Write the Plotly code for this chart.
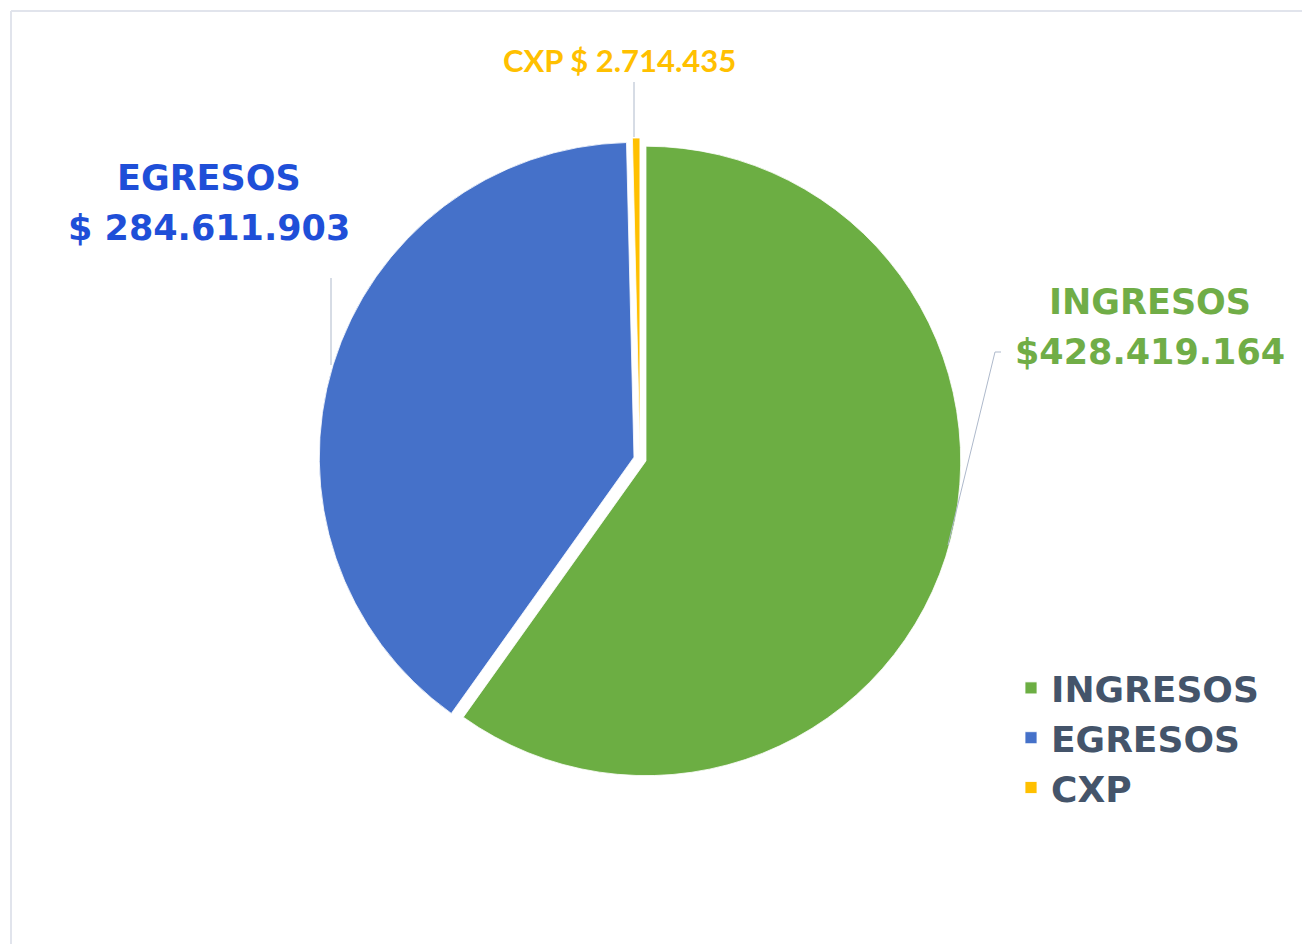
import plotly.graph_objects as go

categories = ["INGRESOS", "EGRESOS", "CXP"]
values = [428419164, 284611903, 2714435]
value_texts = ["$428.419.164", "$ 284.611.903", "$ 2.714.435"]
colors = ["#6CAE43", "#4571C9", "#FFC000"]
label_colors = ["#70AD47", "#1F4FD8", "#FFC000"]

W, H = 1302, 944

def px(x):
    return x / W

def py(y):
    return 1 - y / H

fig = go.Figure()
fig.add_trace(go.Pie(
    labels=categories,
    values=values,
    sort=False,
    direction="clockwise",
    rotation=0,
    textinfo="none",
    pull=[0.02, 0.02, 0.02],
    marker=dict(colors=colors, line=dict(color="white", width=0.8)),
    domain=dict(x=[px(640 - 321), px(640 + 321)], y=[py(459 + 321), py(459 - 321)]),
    hovertemplate="%{label}: $%{value:,.0f}<extra></extra>",
))

# labels
lab_font = dict(family="DejaVu Sans", size=35, weight="bold")

def add_label(text, x, y, color, font=lab_font):
    fig.add_annotation(x=px(x), y=py(y), xref="paper", yref="paper", text=text,
                       xanchor="center", yanchor="middle", showarrow=False,
                       font=dict(font, color=color), align="center")

add_label(categories[0], 1150, 302, label_colors[0])
add_label(value_texts[0], 1150, 352, label_colors[0])
add_label(categories[1], 209, 178, label_colors[1])
add_label(value_texts[1], 209, 228, label_colors[1])
add_label(categories[2] + " " + value_texts[2], 619, 60, label_colors[2],
          font=dict(family="Lato", size=31, weight="bold"))

leader = dict(color="#AEB9CB", width=1)
shapes = [
    dict(type="line", xref="paper", yref="paper", x0=px(634), y0=py(82), x1=px(634), y1=py(137), line=leader),
    dict(type="line", xref="paper", yref="paper", x0=px(331), y0=py(278), x1=px(331), y1=py(365), line=leader),
    dict(type="path", xref="paper", yref="paper",
         path=f"M {px(1001)},{py(352)} L {px(995)},{py(352)} L {px(948)},{py(545)}", line=leader),
    # chart border (top and left visible)
    dict(type="line", xref="paper", yref="paper", x0=px(11), y0=py(11), x1=1.0, y1=py(11),
         line=dict(color="#E1E4EC", width=2)),
    dict(type="line", xref="paper", yref="paper", x0=px(11), y0=py(11), x1=px(11), y1=0.0,
         line=dict(color="#E1E4EC", width=2)),
]

fig.update_layout(
    width=W, height=H,
    margin=dict(l=0, r=0, t=0, b=0),
    paper_bgcolor="white",
    plot_bgcolor="white",
    shapes=shapes,
    showlegend=True,
    legend=dict(
        x=px(1011), y=py(658), xanchor="left", yanchor="top",
        font=dict(family="DejaVu Sans", size=36, color="#44546A", weight="bold"),
        bgcolor="rgba(0,0,0,0)",
    ),
)

fig.write_html("out.html", config={"displayModeBar": False},
               post_script="document.body.style.margin='0';document.body.style.overflow='hidden';")
